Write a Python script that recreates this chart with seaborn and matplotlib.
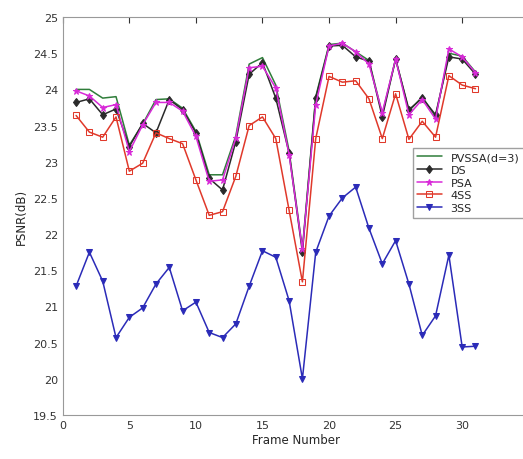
import numpy as np
import pandas as pd
import matplotlib
matplotlib.use("Agg")
import matplotlib.pyplot as plt
import seaborn as sns

frames = list(range(1, 32))

pvssa = [24.00, 24.00, 23.88, 23.90, 23.23, 23.52, 23.86, 23.87, 23.74, 23.42,
         22.82, 22.82, 23.36, 24.35, 24.44, 24.06, 23.15, 21.80, 23.90, 24.62,
         24.64, 24.52, 24.40, 23.66, 24.42, 23.70, 23.90, 23.62, 24.50, 24.46,
         24.24]
ds = [23.82, 23.87, 23.65, 23.73, 23.21, 23.53, 23.40, 23.86, 23.72, 23.40,
      22.77, 22.61, 23.28, 24.21, 24.37, 23.88, 23.12, 21.75, 23.88, 24.60,
      24.61, 24.45, 24.39, 23.62, 24.42, 23.72, 23.88, 23.65, 24.45, 24.42,
      24.21]
psa = [23.98, 23.91, 23.75, 23.79, 23.14, 23.51, 23.82, 23.82, 23.70, 23.35,
       22.73, 22.75, 23.33, 24.30, 24.32, 24.02, 23.10, 21.79, 23.79, 24.60,
       24.64, 24.52, 24.35, 23.68, 24.42, 23.65, 23.86, 23.59, 24.56, 24.45,
       24.23]
ss4 = [23.64, 23.41, 23.34, 23.62, 22.87, 22.98, 23.40, 23.32, 23.25, 22.75,
       22.26, 22.31, 22.80, 23.50, 23.62, 23.32, 22.33, 21.34, 23.32, 24.18,
       24.10, 24.12, 23.87, 23.32, 23.94, 23.31, 23.56, 23.34, 24.19, 24.06,
       24.01]
ss3 = [21.28, 21.75, 21.35, 20.57, 20.85, 20.98, 21.31, 21.54, 20.94, 21.06,
       20.64, 20.57, 20.76, 21.28, 21.77, 21.68, 21.08, 20.00, 21.75, 22.25,
       22.50, 22.65, 22.08, 21.59, 21.91, 21.31, 20.60, 20.87, 21.71, 20.44,
       20.45]

names = ["PVSSA(d=3)", "DS", "PSA", "4SS", "3SS"]
values = [pvssa, ds, psa, ss4, ss3]

df = pd.DataFrame({"frame": frames * len(names),
                   "psnr": sum(values, []),
                   "method": np.repeat(names, len(frames))})

styles = {
    "PVSSA(d=3)": dict(color="#2f7d3a", marker=None, mfc=None),
    "DS":         dict(color="#2a2a2a", marker="d", mfc="#2a2a2a"),
    "PSA":        dict(color="#d82ad8", marker="*", mfc="#d82ad8"),
    "4SS":        dict(color="#e0392b", marker="s", mfc="none"),
    "3SS":        dict(color="#2b2bb8", marker="v", mfc="#2b2bb8"),
}

sns.set_style("white")
plt.rcParams["font.family"] = ["DejaVu Sans"]

fig = plt.figure(figsize=(5.23, 4.60), dpi=100)
ax = fig.add_axes([0.12, 0.0957, 0.891, 0.865])

for name in names:
    st = styles[name]
    sub = df[df["method"] == name]
    kw = dict(x="frame", y="psnr", data=sub, ax=ax, color=st["color"],
              label=name, linewidth=1.1)
    if st["marker"]:
        kw.update(marker=st["marker"], markersize=4.5,
                  markerfacecolor=st["mfc"], markeredgecolor=st["color"])
    sns.lineplot(**kw)

ax.set_xlim(0, 35)
ax.set_ylim(19.5, 25)
ax.set_xticks([0, 5, 10, 15, 20, 25, 30])
ax.set_yticks(np.arange(19.5, 25.01, 0.5))
ax.set_yticklabels([f"{v:g}" for v in np.arange(19.5, 25.01, 0.5)])
ax.tick_params(direction="in", length=4, labelsize=8, colors="#333333",
               top=True, right=True)
for s in ax.spines.values():
    s.set_color("#999999")
    s.set_linewidth(0.8)
ax.set_xlabel("Frame Number", fontsize=8.5, labelpad=2)
ax.set_ylabel("PSNR(dB)", fontsize=8.5, labelpad=4)

ax.legend(loc="upper left", bbox_to_anchor=(0.739, 0.686), fontsize=8,
          frameon=True, fancybox=False, edgecolor="#888888",
          borderpad=0.4, labelspacing=0.25, handlelength=2.2)

fig.savefig("out.png", dpi=100)
